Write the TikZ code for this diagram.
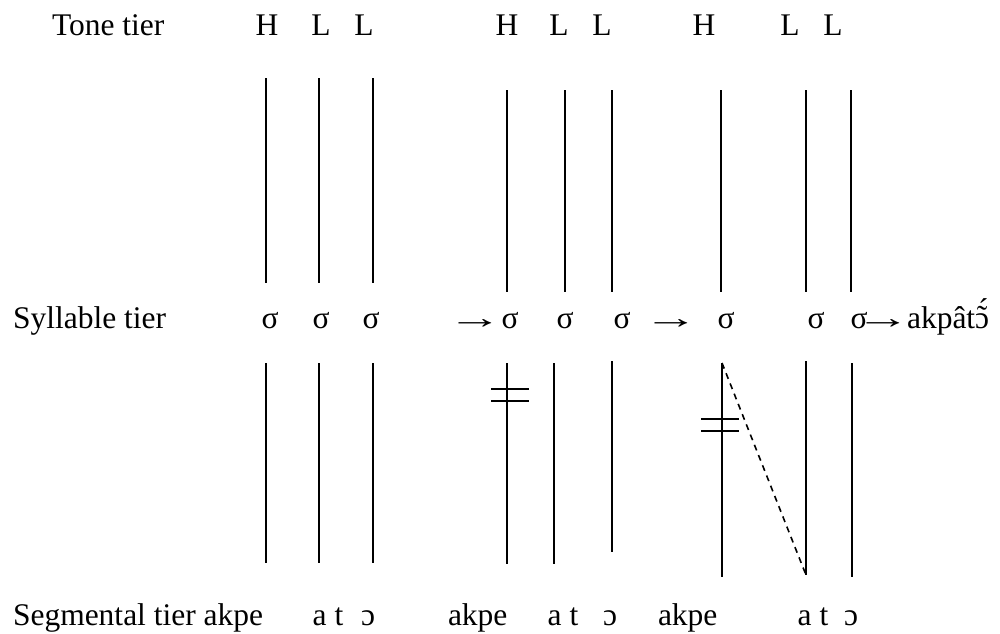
\documentclass[tikz,border=0pt]{standalone}
\usepackage{fontspec}
\setmainfont{Liberation Serif}
\newcommand{\wideArrow}{\scalebox{1.75}[1]{→}}
\newcommand{\openOTA}{{\ooalign{ɔ\cr\hidewidth\raisebox{0.02em}{˜}\hidewidth\cr\hidewidth\kern0.08em\raisebox{0.24em}{´}\hidewidth\cr}}}
\begin{document}
\begin{tikzpicture}[x=1pt,y=-1pt,
  txt/.style={anchor=base,inner sep=0pt,outer sep=0pt,font=\fontsize{31.5}{36}\selectfont},
  lbl/.style={txt,anchor=base west},
  assoc/.style={line width=1.6pt},
  delink/.style={line width=1.6pt},
  spread/.style={line width=1.6pt,dashed,dash pattern=on 6pt off 5pt}]
\useasboundingbox (0,0) rectangle (1000,633);
% tone tier
\node[lbl] (tonelbl) at (52,35) {Tone tier};
\node[txt] (h1) at (267,35) {H};
\node[txt] (l1a) at (321,35) {L};
\node[txt] (l1b) at (364,35) {L};
\node[txt] (h2) at (507,35) {H};
\node[txt] (l2a) at (559,35) {L};
\node[txt] (l2b) at (602,35) {L};
\node[txt] (h3) at (704,35) {H};
\node[txt] (l3a) at (790,35) {L};
\node[txt] (l3b) at (833,35) {L};
% syllable tier
\node[lbl] (syllbl) at (13,328) {Syllable tier};
\node[txt] (s1a) at (270,328) {σ};
\node[txt] (s1b) at (321,328) {σ};
\node[txt] (s1c) at (371,328) {σ};
\node[txt] (ar1) at (475,328) {\wideArrow};
\node[txt] (s2a) at (510,328) {σ};
\node[txt] (s2b) at (565,328) {σ};
\node[txt] (s2c) at (622,328) {σ};
\node[txt] (ar2) at (671,328) {\wideArrow};
\node[txt] (s3a) at (726,328) {σ};
\node[txt] (s3b) at (816,328) {σ};
\node[txt] (s3c) at (859,328) {σ};
\node[txt] (ar3) at (883,328) {\wideArrow};
\node[lbl] (res) at (907,328) {akpât\openOTA};
% segmental tier
\node[lbl] (seglbl) at (13,625) {Segmental tier akpe};
\node[txt] (at1) at (328,625) {a t};
\node[txt] (o1) at (368,625) {ɔ};
\node[lbl] (akpe2) at (448,625) {akpe};
\node[txt] (at2) at (563,625) {a t};
\node[txt] (o2) at (610,625) {ɔ};
\node[lbl] (akpe3) at (658,625) {akpe};
\node[txt] (at3) at (813,625) {a t};
\node[txt] (o3) at (851,625) {ɔ};
% upper association lines
\foreach \n/\x/\a/\b in {ua1/266/78/283, ua2/319/78/283, ua3/373/78/283,
  ub1/507/90/292, ub2/565/90/292, ub3/612/90/292,
  uc1/721/90/292, uc2/806/90/292, uc3/851/90/292}{
  \coordinate (\n t) at (\x,\a);
  \coordinate (\n b) at (\x,\b);
  \draw[assoc] (\n t) -- (\n b);
}
% lower association lines
\foreach \n/\x/\a/\b in {la1/266/363/563, la2/319/363/563, la3/373/363/563,
  lb1/507/363/564, lb2/554/363/564, lb3/612/361/552,
  lc1/722/363/577, lc2/806/361/575, lc3/852/363/577}{
  \coordinate (\n t) at (\x,\a);
  \coordinate (\n b) at (\x,\b);
  \draw[assoc] (\n t) -- (\n b);
}
% delinking marks
\coordinate (d1l) at (491,389); \coordinate (d1r) at (529,389);
\coordinate (d2l) at (491,401); \coordinate (d2r) at (529,401);
\draw[delink] (d1l) -- (d1r);
\draw[delink] (d2l) -- (d2r);
\coordinate (d3l) at (701,419); \coordinate (d3r) at (739,419);
\coordinate (d4l) at (701,431); \coordinate (d4r) at (739,431);
\draw[delink] (d3l) -- (d3r);
\draw[delink] (d4l) -- (d4r);
% spreading (dashed)
\draw[spread] (lc1t) -- (lc2b);
\end{tikzpicture}
\end{document}
